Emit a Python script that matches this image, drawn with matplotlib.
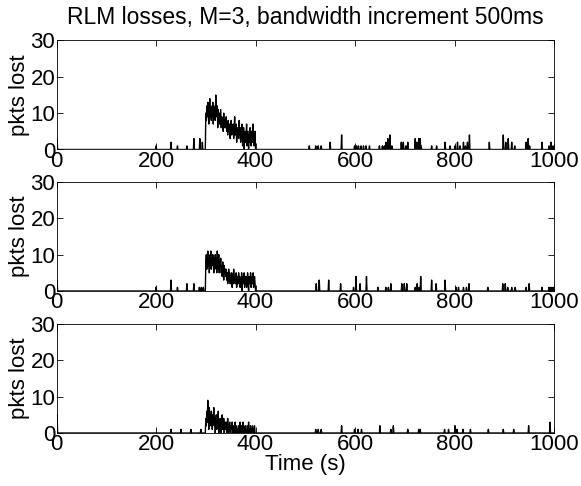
import numpy as np
import matplotlib
matplotlib.use("Agg")
import matplotlib.pyplot as plt

plt.rcParams['font.family'] = ['Liberation Sans', 'DejaVu Sans']

# -----------------------------------------------
# Pérdidas por segundo (t = 0..1000 s), tres receptores
# -----------------------------------------------
t = np.arange(0, 1001)

# ráfaga de pérdidas entre 300 y 400 s
rafaga_1 = [10, 8, 12, 9, 13, 10, 7, 11, 14, 9,
            12, 8, 11, 10, 13, 7, 12, 9, 11, 8,
            15, 10, 9, 12, 6, 11, 8, 10, 7, 9,
            11, 6, 9, 7, 8, 5, 10, 6, 8, 7,
            6, 9, 5, 7, 4, 8, 6, 5, 7, 3,
            6, 8, 4, 6, 5, 7, 3, 6, 9, 4,
            5, 7, 2, 6, 4, 5, 3, 8, 4, 6,
            2, 5, 3, 7, 1, 4, 6, 0, 3, 5,
            2, 4, 7, 1, 3, 5, 0, 4, 2, 6,
            3, 1, 5, 4, 2, 7, 3, 1, 4, 5, 0]
rafaga_2 = [8, 10, 6, 9, 11, 7, 10, 5, 9, 8,
            11, 6, 9, 7, 10, 8, 5, 9, 6, 10,
            7, 9, 5, 11, 8, 6, 10, 5, 8, 7,
            9, 5, 7, 4, 8, 6, 3, 7, 5, 6,
            4, 6, 3, 5, 2, 4, 6, 3, 5, 2,
            4, 3, 5, 1, 4, 2, 6, 3, 4, 2,
            3, 5, 1, 4, 2, 3, 5, 2, 4, 1,
            3, 2, 5, 0, 4, 2, 3, 5, 1, 4,
            2, 4, 1, 3, 5, 2, 0, 4, 3, 2,
            5, 1, 3, 4, 2, 5, 1, 3, 4, 2, 0]
rafaga_3 = [4, 2, 6, 3, 9, 5, 1, 7, 3, 5,
            2, 6, 4, 1, 5, 3, 7, 2, 4, 0,
            3, 5, 1, 4, 2, 6, 0, 3, 1, 4,
            2, 0, 3, 5, 1, 2, 4, 0, 2, 3,
            1, 3, 0, 2, 4, 1, 0, 2, 3, 1,
            0, 2, 1, 3, 0, 1, 2, 0, 1, 3,
            0, 1, 2, 0, 1, 0, 2, 1, 0, 3,
            1, 0, 2, 0, 1, 3, 0, 1, 0, 2,
            0, 1, 0, 2, 1, 0, 3, 0, 1, 0,
            2, 0, 1, 0, 2, 1, 0, 1, 2, 0, 0]

# pérdidas aisladas (tiempo, paquetes)
picos_t1 = [1, 200, 230, 243, 262, 276, 288, 293, 508, 521, 526, 532, 550, 573,
            599, 603, 607, 612, 617, 622, 629, 649, 655, 659, 662, 666, 670, 674,
            693, 697, 702, 706, 721, 724, 728, 731, 733, 754, 764, 781, 791,
            801, 806, 811, 818, 822, 826, 830, 870, 898, 903, 908, 915, 921,
            944, 948, 951, 976, 990, 994, 998]
picos_v1 = [3, 1, 2, 1, 1, 3, 3, 2, 1, 1, 1, 1, 2, 4,
            1, 1, 1, 1, 1, 1, 1, 1, 1, 1, 2, 3, 4, 1,
            2, 2, 1, 2, 3, 2, 3, 3, 1, 1, 1, 2, 1,
            1, 2, 1, 2, 1, 2, 4, 2, 4, 2, 3, 2, 1,
            2, 3, 1, 2, 1, 2, 1]
picos_t2 = [1, 200, 230, 243, 262, 276, 287, 291, 295, 522, 528, 547, 571,
            597, 602, 610, 623, 646, 662, 667, 672, 694, 699, 704,
            721, 725, 729, 732, 754, 763, 781, 803, 808, 818, 824, 829,
            867, 897, 902, 907, 915, 922, 944, 950, 976, 990, 994, 998]
picos_v2 = [3, 1, 3, 1, 2, 2, 1, 1, 1, 2, 3, 3, 2,
            1, 4, 2, 4, 1, 1, 1, 2, 2, 2, 2,
            1, 2, 1, 4, 3, 2, 3, 1, 1, 1, 1, 2,
            1, 2, 2, 1, 1, 1, 1, 2, 1, 1, 1, 1]
picos_t3 = [1, 230, 250, 270, 290, 521, 526, 532, 573, 599, 606, 613,
            650, 672, 677, 706, 728, 731, 780, 788, 801, 805, 817, 832,
            868, 898, 919, 949, 992]
picos_v3 = [5, 1, 1, 1, 1, 1, 1, 1, 2, 1, 1, 1,
            2, 1, 2, 1, 1, 1, 1, 1, 2, 1, 1, 1,
            1, 1, 1, 2, 3]


def serie(rafaga, picos_t, picos_v):
    y = np.zeros(len(t))
    y[300:401] = rafaga
    y[picos_t] = picos_v
    return y


series = [serie(rafaga_1, picos_t1, picos_v1),
          serie(rafaga_2, picos_t2, picos_v2),
          serie(rafaga_3, picos_t3, picos_v3)]

W, H = 581, 486
fig = plt.figure(figsize=(W / 100, H / 100), dpi=100)
fs = 16

izq, der = 56.6, 554
tops = [40.5, 182, 324]
alto = 109

axes = []
for i, y in enumerate(series):
    ax = fig.add_axes([izq / W, 1 - (tops[i] + alto) / H, (der - izq) / W, alto / H])
    ax.plot(t, y, color='black', lw=1.0)
    ax.set_xlim(0, 1000)
    ax.set_ylim(0, 30)
    ax.set_xticks([0, 200, 400, 600, 800, 1000])
    ax.set_yticks([0, 10, 20, 30])
    ax.tick_params(direction='in', top=True, right=True, labelsize=fs,
                   length=4, width=0.6, pad=1)
    ax.set_ylabel('pkts lost', fontsize=fs, labelpad=0)
    for s in ax.spines.values():
        s.set_linewidth(0.6)
    axes.append(ax)

axes[0].set_title('RLM losses, M=3, bandwidth increment 500ms', fontsize=16.5, pad=12)
axes[2].set_xlabel('Time (s)', fontsize=fs, labelpad=-1)

fig.savefig('out.png', dpi=100)
